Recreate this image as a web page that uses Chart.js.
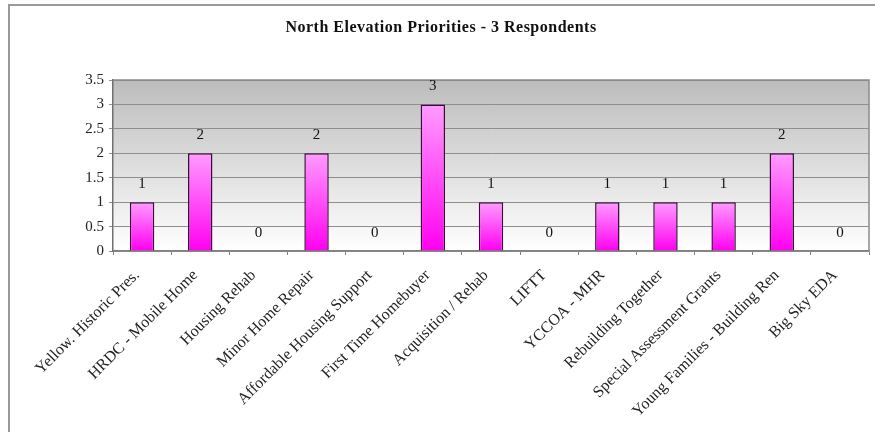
<!DOCTYPE html>
<html>
<head>
<meta charset="utf-8">
<script src="https://cdn.jsdelivr.net/npm/chart.js@4/dist/chart.umd.min.js"></script>
<style>
  body { margin: 0; background: #fff; }
  #wrap { width: 875px; height: 435px; }
</style>
</head>
<body>
<div id="wrap"><canvas id="prio"></canvas></div>
<script>
let categories = ['Yellow. Historic Pres.', 'HRDC - Mobile Home', 'Housing Rehab', 'Minor Home Repair',
    'Affordable Housing Support', 'First Time Homebuyer', 'Acquisition / Rehab', 'LIFTT',
    'YCCOA - MHR', 'Rebuilding Together', 'Special Assessment Grants',
    'Young Families - Building Ren', 'Big Sky EDA'];
let votes = [1, 2, 0, 2, 0, 3, 1, 0, 1, 1, 1, 2, 0];
let yTicks = [0, 0.5, 1, 1.5, 2, 2.5, 3, 3.5];
let title = 'North Elevation Priorities - 3 Respondents';

const serif = "'Liberation Serif', 'Times New Roman', serif";

// frame, title and grey plot background
const backdrop = {
    id: 'backdrop',
    beforeDraw(chart) {
        let c = chart.ctx, a = chart.chartArea;
        c.save();
        let g = c.createLinearGradient(0, a.top, 0, a.bottom);
        g.addColorStop(0, '#bcbcbc');
        g.addColorStop(1, '#ffffff');
        c.fillStyle = g;
        c.fillRect(a.left, a.top, a.right - a.left, a.bottom - a.top);
        c.strokeStyle = '#9a9a9a';
        c.lineWidth = 2;
        c.beginPath();
        c.moveTo(9, 432);
        c.lineTo(9, 5);
        c.lineTo(875, 5);
        c.stroke();
        c.fillStyle = '#111';
        c.font = 'bold 16px ' + serif;
        c.letterSpacing = '0.5px';
        c.textAlign = 'center';
        c.textBaseline = 'middle';
        c.fillText(title, 441, 28);
        c.restore();
    },
    afterDatasetsDraw(chart) {
        let c = chart.ctx, a = chart.chartArea;
        c.save();
        c.strokeStyle = '#8a8a8a';
        c.lineWidth = 1.5;
        c.beginPath();
        c.moveTo(a.left, a.top);
        c.lineTo(a.right, a.top);
        c.lineTo(a.right, a.bottom);
        c.stroke();
        // value labels above each bar
        let meta = chart.getDatasetMeta(0);
        c.fillStyle = '#111';
        c.font = '15px ' + serif;
        c.textAlign = 'center';
        c.textBaseline = 'middle';
        meta.data.forEach((bar, i) => {
            c.fillText(String(votes[i]), bar.x, bar.y - 18);
        });
        c.restore();
    }
};

function barFill(ctx) {
    let chart = ctx.chart;
    let y = chart.scales.y;
    if (!y || y.top === undefined) return '#ff66ff';
    let top = y.getPixelForValue(ctx.raw || 0);
    let bottom = y.getPixelForValue(0);
    if (bottom - top < 1) return '#ff00ff';
    let g = chart.ctx.createLinearGradient(0, top, 0, bottom);
    g.addColorStop(0, '#ff9cff');
    g.addColorStop(1, '#ff00f0');
    return g;
}

new Chart(document.getElementById('prio'), {
    type: 'bar',
    data: {
        labels: categories,
        datasets: [{
            data: votes,
            backgroundColor: barFill,
            borderColor: '#3a0a3a',
            borderWidth: 1.5,
            borderSkipped: 'bottom',
            barPercentage: 0.42,
            categoryPercentage: 1
        }]
    },
    options: {
        responsive: true,
        maintainAspectRatio: false,
        animation: false,
        layout: { padding: { top: 80, right: 6, left: 0, bottom: 0 } },
        plugins: {
            legend: { display: false },
            title: { display: false },
            tooltip: { enabled: false }
        },
        scales: {
            x: {
                afterFit(scale) { scale.height = 184; },
                border: { color: '#808080', width: 1.5 },
                grid: { drawOnChartArea: false, drawTicks: true, tickLength: 4, color: '#808080' },
                ticks: {
                    color: '#222',
                    font: { family: serif, size: 16 },
                    minRotation: 45,
                    maxRotation: 45,
                    autoSkip: false,
                    padding: 11,
                    labelOffset: -5
                }
            },
            y: {
                min: 0,
                max: 3.5,
                afterFit(scale) { scale.width = 113; },
                afterBuildTicks(scale) { scale.ticks = yTicks.map(v => ({ value: v })); },
                border: { color: '#707070', width: 1.5 },
                grid: { color: '#8e8e8e', lineWidth: 1, tickLength: 4 },
                ticks: {
                    color: '#222',
                    font: { family: serif, size: 15 },
                    padding: 5,
                    callback: v => String(v)
                }
            }
        }
    },
    plugins: [backdrop]
});
</script>
</body>
</html>
